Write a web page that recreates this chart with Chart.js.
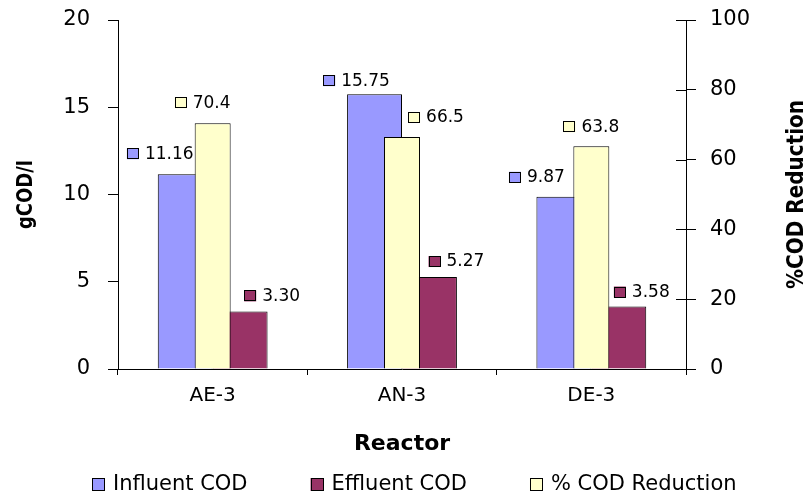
<!DOCTYPE html>
<html>
<head>
<meta charset="utf-8">
<script src="https://cdn.jsdelivr.net/npm/chart.js@4.4.1/dist/chart.umd.min.js"></script>
<style>
  html, body { margin: 0; padding: 0; background: #fff; }
  #wrap { width: 809px; height: 498px; }
</style>
</head>
<body>
<div id="wrap"><canvas id="chart" width="809" height="498"></canvas></div>
<script>
const reactors = ["AE-3", "AN-3", "DE-3"];
const influentCOD = [11.16, 15.75, 9.87];
const effluentCOD = [3.30, 5.27, 3.58];
const codReduction = [70.4, 66.5, 63.8];
const leftTicks = [0, 5, 10, 15, 20];
const rightTicks = [0, 20, 40, 60, 80, 100];

const FONT = "'DejaVu Sans', 'Liberation Sans', Arial, sans-serif";

// value labels with a small key square, nudged like the original
const valueLabels = {
  id: "valueLabels",
  afterDatasetsDraw(chart) {
    const c = chart.ctx;
    c.save();
    c.font = "17px " + FONT;
    c.textBaseline = "middle";
    chart.data.datasets.forEach((ds, i) => {
      const meta = chart.getDatasetMeta(i);
      meta.data.forEach((bar, j) => {
        const txt = ds.labelText[j];
        const w = 12 + 6 + c.measureText(txt).width;
        const left = bar.x + ds.labelDx[j] - w / 2;
        const y = bar.y + ds.labelDy[j];
        c.fillStyle = ds.backgroundColor;
        c.fillRect(left, y - 5, 12, 11);
        c.strokeStyle = "#000";
        c.lineWidth = 1;
        c.strokeRect(Math.round(left) + 0.5, Math.round(y - 5) + 0.5, 11, 10);
        c.fillStyle = "#000";
        c.fillText(txt, left + 18, y + 1);
      });
    });
    c.restore();
  }
};

// axis titles, inner tick marks of the right axis, and the legend
const extras = {
  id: "extras",
  afterDraw(chart) {
    const c = chart.ctx;
    const a = chart.chartArea;
    const mid = (a.top + a.bottom) / 2;
    c.save();
    c.fillStyle = "#000";
    c.textAlign = "center";
    c.textBaseline = "middle";

    c.save();
    c.translate(26, mid);
    c.rotate(-Math.PI / 2);
    c.scale(1, 1.2);
    c.font = "bold 18px " + FONT;
    c.fillText("gCOD/l", 0, 0);
    c.restore();

    c.save();
    c.translate(797, mid);
    c.rotate(-Math.PI / 2);
    c.scale(1, 1.15);
    c.font = "bold 20px " + FONT;
    c.fillText("%COD Reduction", 0, 0);
    c.restore();

    const y1 = chart.scales.y1;
    c.strokeStyle = "#000";
    c.lineWidth = 1;
    rightTicks.forEach(v => {
      const y = Math.round(y1.getPixelForValue(v)) + 0.5;
      c.beginPath();
      c.moveTo(a.right - 10, y);
      c.lineTo(a.right, y);
      c.stroke();
    });

    // legend
    c.font = "21px " + FONT;
    c.textAlign = "left";
    const items = legendOrder.map(name => chart.data.datasets.find(d => d.label === name));
    const gap = 63;
    let x = 92;
    const ly = 484;
    items.forEach(d => {
      c.fillStyle = d.backgroundColor;
      c.fillRect(x, ly - 6, 13, 13);
      c.strokeRect(Math.round(x) + 0.5, ly - 6 + 0.5, 12, 12);
      c.fillStyle = "#000";
      c.fillText(d.label, x + 21, ly + 1);
      x += 21 + c.measureText(d.label).width + gap;
    });
    c.restore();
  }
};

const legendOrder = ["Influent COD", "Effluent COD", "% COD Reduction"];

new Chart(document.getElementById("chart"), {
  type: "bar",
  data: {
    labels: reactors,
    datasets: [
      {
        label: "Influent COD",
        data: influentCOD,
        labelText: influentCOD.map(v => v.toFixed(2)),
        labelDx: [-25, -18, -27],
        labelDy: [-21, -14, -20],
        backgroundColor: "#9999FF",
        borderColor: "#000",
        borderWidth: 1,
        categoryPercentage: 0.58,
        barPercentage: 1,
        yAxisID: "y"
      },
      {
        label: "Effluent COD",
        data: effluentCOD,
        labelText: effluentCOD.map(v => v.toFixed(2)),
        labelDx: [32, 27, 23],
        labelDy: [-16, -16, -15],
        backgroundColor: "#993366",
        borderColor: "#000",
        borderWidth: 1,
        categoryPercentage: 0.58,
        barPercentage: 1,
        yAxisID: "y"
      },
      {
        label: "% COD Reduction",
        data: codReduction,
        labelText: codReduction.map(v => v.toFixed(1)),
        labelDx: [-10, 34, 0],
        labelDy: [-21, -20, -20],
        backgroundColor: "#FFFFCC",
        borderColor: "#000",
        borderWidth: 1,
        grouped: false,
        order: -1,
        categoryPercentage: 0.19,
        barPercentage: 1,
        yAxisID: "y1"
      }
    ]
  },
  options: {
    responsive: false,
    animation: false,
    devicePixelRatio: 1,
    layout: { padding: { top: 20, right: 0, left: 0, bottom: 30 } },
    plugins: {
      tooltip: { enabled: false },
      legend: { display: false }
    },
    scales: {
      x: {
        offset: true,
        afterFit: s => { s.height = 99; },
        grid: {
          offset: true,
          drawOnChartArea: false,
          color: "#000",
          tickLength: 6
        },
        border: { color: "#000" },
        ticks: { color: "#000", font: { family: FONT, size: 20 }, padding: 9 },
        title: {
          display: true,
          text: "Reactor",
          color: "#000",
          font: { family: FONT, size: 22, weight: "bold" },
          padding: { top: 0, bottom: 11 }
        }
      },
      y: {
        position: "left",
        min: 0,
        max: 20,
        afterFit: s => { s.width = 118; s.paddingTop = 0; s.paddingBottom = 0; },
        afterBuildTicks: s => { s.ticks = leftTicks.map(v => ({ value: v })); },
        grid: { drawOnChartArea: false, color: "#000", tickLength: 10 },
        border: { color: "#000" },
        ticks: { color: "#000", font: { family: FONT, size: 21 }, padding: 18 }
      },
      y1: {
        position: "right",
        min: 0,
        max: 100,
        afterFit: s => { s.width = 123; s.paddingTop = 0; s.paddingBottom = 0; },
        afterBuildTicks: s => { s.ticks = rightTicks.map(v => ({ value: v })); },
        grid: { drawOnChartArea: false, color: "#000", tickLength: 10 },
        border: { color: "#000" },
        ticks: { color: "#000", font: { family: FONT, size: 21 }, padding: 14 }
      }
    }
  },
  plugins: [valueLabels, extras]
});
</script>
</body>
</html>
